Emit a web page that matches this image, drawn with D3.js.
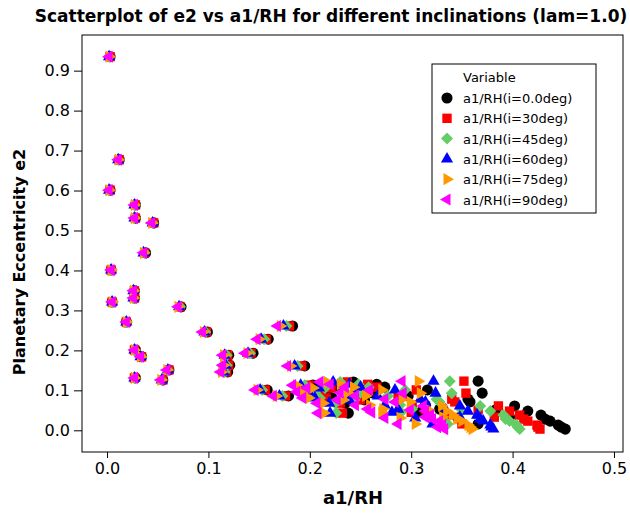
<!DOCTYPE html>
<html>
<head>
<meta charset="utf-8">
<script src="https://cdn.jsdelivr.net/npm/d3@7"></script>
<style>
  body { margin: 0; background: #fff; }
  text { font-family: "DejaVu Sans", sans-serif; }
</style>
</head>
<body>
<script>
// e2 values shared by all inclinations (one per initial condition)
var e2Vals = [0.935, 0.677, 0.601, 0.564, 0.531, 0.519, 0.444, 0.401, 0.349, 0.331,
              0.321, 0.309, 0.271, 0.246, 0.201, 0.184, 0.131, 0.151, 0.126, 0.261,
              0.228, 0.188, 0.193, 0.163, 0.146, 0.161, 0.101, 0.086,
              0.113, 0.096, 0.121, 0.068, 0.043, 0.076, 0.094, 0.115, 0.101, 0.123,
              0.093, 0.061, 0.078, 0.038, 0.023, 0.013, 0.003, 0.051, 0.033, 0.063,
              0.053, 0.031, 0.016, 0.086, 0.106, 0.081, 0.108, 0.045, 0.071,
              0.048, 0.028, 0.008];

// a1/RH for each inclination
var xI0  = [0.003, 0.012, 0.003, 0.028, 0.028, 0.046, 0.038, 0.004, 0.027, 0.027,
            0.005, 0.073, 0.019, 0.099, 0.028, 0.034, 0.028, 0.061, 0.055, 0.183,
            0.159, 0.120, 0.144, 0.121, 0.119, 0.195, 0.158, 0.179,
            0.203, 0.217, 0.243, 0.235, 0.238, 0.254, 0.261, 0.266, 0.316, 0.366,
            0.370, 0.402, 0.356, 0.428, 0.437, 0.445, 0.452, 0.383, 0.397, 0.314,
            0.328, 0.346, 0.366, 0.297, 0.227, 0.222, 0.274, 0.309, 0.358,
            0.415, 0.432, 0.448];
var xI30 = [0.003, 0.012, 0.003, 0.028, 0.028, 0.046, 0.037, 0.004, 0.027, 0.027,
            0.005, 0.072, 0.019, 0.098, 0.027, 0.034, 0.027, 0.061, 0.055, 0.180,
            0.157, 0.119, 0.142, 0.120, 0.118, 0.192, 0.156, 0.176,
            0.199, 0.211, 0.237, 0.230, 0.232, 0.250, 0.255, 0.257, 0.305, 0.352,
            0.354, 0.386, 0.340, 0.407, 0.415, 0.424, 0.427, 0.366, 0.382, 0.301,
            0.314, 0.333, 0.350, 0.287, 0.221, 0.216, 0.266, 0.300, 0.343,
            0.397, 0.411, 0.425];
var xI45 = [0.002, 0.011, 0.002, 0.027, 0.027, 0.045, 0.037, 0.004, 0.026, 0.026,
            0.005, 0.072, 0.019, 0.097, 0.027, 0.034, 0.027, 0.060, 0.054, 0.177,
            0.155, 0.118, 0.141, 0.118, 0.116, 0.188, 0.153, 0.173,
            0.195, 0.205, 0.230, 0.225, 0.226, 0.244, 0.250, 0.248, 0.294, 0.338,
            0.340, 0.368, 0.325, 0.391, 0.397, 0.404, 0.407, 0.350, 0.366, 0.289,
            0.301, 0.319, 0.336, 0.277, 0.215, 0.210, 0.258, 0.290, 0.328,
            0.378, 0.393, 0.405];
var xI60 = [0.002, 0.011, 0.002, 0.027, 0.027, 0.045, 0.036, 0.004, 0.026, 0.026,
            0.005, 0.071, 0.019, 0.096, 0.027, 0.033, 0.027, 0.060, 0.054, 0.174,
            0.152, 0.116, 0.139, 0.117, 0.115, 0.185, 0.151, 0.170,
            0.191, 0.199, 0.223, 0.219, 0.220, 0.239, 0.243, 0.239, 0.284, 0.322,
            0.324, 0.348, 0.309, 0.365, 0.371, 0.378, 0.381, 0.334, 0.348, 0.274,
            0.287, 0.304, 0.321, 0.267, 0.209, 0.205, 0.250, 0.281, 0.314,
            0.356, 0.368, 0.379];
var xI75 = [0.002, 0.011, 0.002, 0.027, 0.027, 0.044, 0.036, 0.004, 0.026, 0.026,
            0.005, 0.070, 0.019, 0.095, 0.027, 0.033, 0.027, 0.059, 0.053, 0.171,
            0.150, 0.115, 0.138, 0.115, 0.113, 0.181, 0.148, 0.167,
            0.187, 0.193, 0.217, 0.213, 0.214, 0.233, 0.237, 0.230, 0.271, 0.307,
            0.309, 0.330, 0.291, 0.341, 0.350, 0.356, 0.360, 0.317, 0.331, 0.259,
            0.272, 0.289, 0.304, 0.255, 0.203, 0.199, 0.243, 0.271, 0.299,
            0.335, 0.345, 0.358];
var xI90 = [0.002, 0.011, 0.002, 0.027, 0.027, 0.044, 0.036, 0.004, 0.026, 0.026,
            0.005, 0.070, 0.019, 0.094, 0.027, 0.033, 0.027, 0.059, 0.053, 0.168,
            0.148, 0.114, 0.136, 0.114, 0.112, 0.178, 0.146, 0.164,
            0.183, 0.187, 0.210, 0.207, 0.208, 0.227, 0.230, 0.220, 0.259, 0.291,
            0.292, 0.312, 0.274, 0.319, 0.328, 0.331, 0.333, 0.299, 0.314, 0.245,
            0.257, 0.274, 0.287, 0.245, 0.197, 0.193, 0.235, 0.261, 0.284,
            0.314, 0.321, 0.326];

var seriesNames = ["a1/RH(i=0.0deg)", "a1/RH(i=30deg)", "a1/RH(i=45deg)",
                   "a1/RH(i=60deg)", "a1/RH(i=75deg)", "a1/RH(i=90deg)"];
var seriesX = [xI0, xI30, xI45, xI60, xI75, xI90];
var seriesColors = ["#000000", "#ff0000", "#66cc66", "#0000ff", "#ff9900", "#ff00ff"];

var xTicks = [0.0, 0.1, 0.2, 0.3, 0.4, 0.5];
var yTicks = [0.0, 0.1, 0.2, 0.3, 0.4, 0.5, 0.6, 0.7, 0.8, 0.9];

var svgWidth = 630;
var svgHeight = 521;
var frame = {left: 82, right: 623, top: 35, bottom: 452};

var svg = d3.select("body")
            .append("svg")
            .attr("width", svgWidth)
            .attr("height", svgHeight);

var xScale = d3.scaleLinear()
               .domain([-0.0247, 0.5089])
               .range([frame.left, frame.right]);

var yScale = d3.scaleLinear()
               .domain([-0.0543, 0.9892])
               .range([frame.bottom, frame.top]);

// marker shapes: circle, square, diamond, up/right/left triangles
function markerPath(i) {
  var sym = [d3.symbolCircle, d3.symbolSquare, d3.symbolSquare,
             d3.symbolTriangle, d3.symbolTriangle, d3.symbolTriangle][i];
  var size = [96, 88, 72, 64, 64, 64][i];
  return d3.symbol().type(sym).size(size)();
}
var markerRotate = [0, 0, 45, 0, 90, -90];

// points
var plotGroup = svg.append("g");
seriesX.forEach(function(xs, i) {
  var pts = xs.map(function(x, j) { return {x: x, y: e2Vals[j]}; });
  plotGroup.append("g")
           .selectAll("path")
           .data(pts)
           .enter()
           .append("path")
           .attr("d", markerPath(i))
           .attr("transform", d => `translate(${xScale(d.x)},${yScale(d.y)}) rotate(${markerRotate[i]})`)
           .attr("fill", seriesColors[i]);
});

// frame
svg.append("rect")
   .attr("x", frame.left)
   .attr("y", frame.top)
   .attr("width", frame.right - frame.left)
   .attr("height", frame.bottom - frame.top)
   .attr("fill", "none")
   .attr("stroke", "#000")
   .attr("stroke-width", 1);

// axes
var bottomAxis = d3.axisBottom(xScale)
                   .tickValues(xTicks)
                   .tickFormat(d3.format(".1f"))
                   .tickSize(6)
                   .tickPadding(5);
var leftAxis = d3.axisLeft(yScale)
                 .tickValues(yTicks)
                 .tickFormat(d3.format(".1f"))
                 .tickSize(8)
                 .tickPadding(4);

var xAxis = svg.append("g")
               .attr("transform", `translate(0, ${frame.bottom})`)
               .call(bottomAxis);
var yAxis = svg.append("g")
               .attr("transform", `translate(${frame.left}, 0)`)
               .call(leftAxis);

[xAxis, yAxis].forEach(function(ax) {
  ax.select(".domain").remove();
  ax.selectAll("text")
    .style("font-family", "DejaVu Sans, sans-serif")
    .style("font-size", "16px")
    .attr("fill", "#000");
});

// title and axis labels
svg.append("text")
   .attr("x", 331)
   .attr("y", 22)
   .attr("text-anchor", "middle")
   .style("font-size", "17px")
   .style("font-weight", "bold")
   .text("Scatterplot of e2 vs a1/RH for different inclinations (lam=1.0)");

svg.append("text")
   .attr("x", 353)
   .attr("y", 504)
   .attr("text-anchor", "middle")
   .style("font-size", "18px")
   .style("font-weight", "bold")
   .text("a1/RH");

svg.append("text")
   .attr("transform", "rotate(-90)")
   .attr("x", -262)
   .attr("y", 25)
   .attr("text-anchor", "middle")
   .style("font-size", "16px")
   .style("font-weight", "bold")
   .text("Planetary Eccentricity e2");

// legend
var legend = svg.append("g");
legend.append("rect")
      .attr("x", 432)
      .attr("y", 64)
      .attr("width", 164)
      .attr("height", 149)
      .attr("fill", "#fff")
      .attr("stroke", "#000");
legend.append("text")
      .attr("x", 463)
      .attr("y", 82)
      .style("font-size", "13px")
      .text("Variable");
seriesNames.forEach(function(name, i) {
  var cy = 98 + i * 20.3;
  legend.append("path")
        .attr("d", markerPath(i))
        .attr("transform", `translate(447,${cy}) rotate(${markerRotate[i]})`)
        .attr("fill", seriesColors[i]);
  legend.append("text")
        .attr("x", 463)
        .attr("y", cy + 5)
        .style("font-size", "13px")
        .text(name);
});
</script>
</body>
</html>
